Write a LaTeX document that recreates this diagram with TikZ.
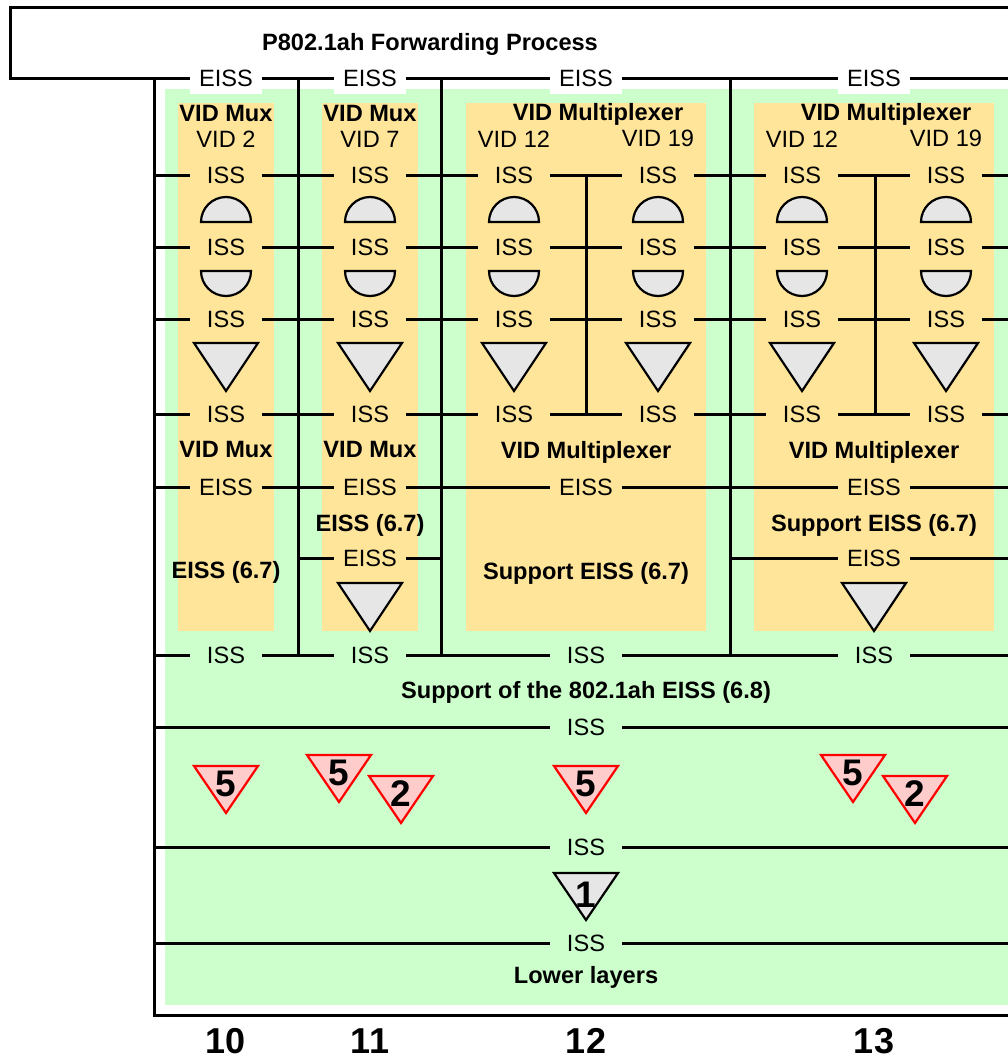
\documentclass[tikz,border=0pt]{standalone}
\usepackage{fontspec}
\setmainfont{Liberation Sans}

\definecolor{layergreen}{HTML}{CCFFCC}
\definecolor{muxyellow}{HTML}{FFE599}
\definecolor{symbgrey}{HTML}{E6E6E6}
\definecolor{flagpink}{HTML}{FFCCCC}

\tikzset{
	bus/.style={line width=3pt},
	port/.style={inner sep=0pt, minimum width=72pt, minimum height=24pt,
		font=\fontsize{23.6}{28}\selectfont, text height=16.9pt, text depth=0pt},
	topport/.style={port, fill=white, minimum height=32pt},
	lbl/.style={inner sep=0pt, font=\fontsize{23.6}{28}\selectfont\bfseries,
		text height=16.9pt, text depth=0pt},
	vid/.style={lbl, font=\fontsize{23.6}{28}\selectfont},
	symb/.style={draw, line width=2.2pt, fill=symbgrey},
	flag/.style={draw=red, line width=2.2pt, fill=flagpink},
	flagnum/.style={inner sep=0pt, font=\fontsize{37}{40}\selectfont\bfseries,
		text height=26.5pt, text depth=0pt},
	colnum/.style={inner sep=0pt, font=\fontsize{36}{40}\selectfont\bfseries,
		text height=25.8pt, text depth=0pt}
}

\begin{document}
\begin{tikzpicture}[x=1pt,y=-1pt]
	\useasboundingbox (0,0) rectangle (1007,1060);

	% Hintergruende
	\fill[layergreen] (165,89) rectangle (1010,1005);
	\foreach \xa/\xb in {178/274,322/418,466/706,754/994}
		\fill[muxyellow] (\xa,103) rectangle (\xb,631);

	% Forwarding Process
	\node[lbl] (fwd) at (430,42) {P802.1ah Forwarding Process};
	\foreach \n/\x in {1/226,2/370,3/586,4/874}
		\node[topport] (eA\n) at (\x,78) {EISS};
	\coordinate (lA) at (10,78);
	\coordinate (rA) at (1010,78);
	\draw[bus] (1010,7) -| (lA) -- (eA1) -- (eA2) -- (eA3) -- (eA4) -- (rA);

	% ISS-Ebenen in den VID-Spalten
	\foreach \r/\y in {B/175,C/247,D/319,E/414} {
		\foreach \n/\x in {1/226,2/370,3/514,4/658,5/802,6/946}
			\node[port] (i\r\n) at (\x,\y) {ISS};
		\coordinate (l\r) at (154,\y);
		\coordinate (r\r) at (1010,\y);
		\draw[bus] (l\r) -- (i\r1) -- (i\r2) -- (i\r3) -- (i\r4) -- (i\r5) -- (i\r6) -- (r\r);
	}

	% EISS-Ebenen
	\foreach \n/\x in {1/226,2/370,3/586,4/874}
		\node[port] (eF\n) at (\x,487) {EISS};
	\coordinate (lF) at (154,487);
	\coordinate (rF) at (1010,487);
	\draw[bus] (lF) -- (eF1) -- (eF2) -- (eF3) -- (eF4) -- (rF);

	\node[port] (eG2) at (370,558) {EISS};
	\node[port] (eG4) at (874,558) {EISS};
	\coordinate (lG2) at (298,558);
	\coordinate (rG2) at (441,558);
	\coordinate (lG4) at (730,558);
	\coordinate (rG4) at (1010,558);
	\draw[bus] (lG2) -- (eG2) -- (rG2);
	\draw[bus] (lG4) -- (eG4) -- (rG4);

	% ISS unterhalb
	\foreach \n/\x in {1/226,2/370,3/586,4/874}
		\node[port] (iH\n) at (\x,655) {ISS};
	\coordinate (lH) at (154,655);
	\coordinate (rH) at (1010,655);
	\draw[bus] (lH) -- (iH1) -- (iH2) -- (iH3) -- (iH4) -- (rH);

	\foreach \r/\y in {I/727,J/847,K/943} {
		\node[port] (i\r) at (586,\y) {ISS};
		\coordinate (l\r) at (154,\y);
		\coordinate (r\r) at (1010,\y);
		\draw[bus] (l\r) -- (i\r) -- (r\r);
	}

	% senkrechte Verbindungen
	\coordinate (bot) at (1010,1015);
	\draw[bus] (154,78) |- (bot);
	\foreach \x in {298,441,730}
		\draw[bus] (\x,78) -- (\x,655);
	\foreach \x in {586,875}
		\draw[bus] (\x,175) -- (\x,414);

	% Symbole
	\foreach \x in {226,370,514,658,802,946} {
		\filldraw[symb] (\x-25,222) arc[start angle=180, end angle=360, radius=25] -- cycle;
		\filldraw[symb] (\x-25,271) arc[start angle=180, end angle=0, radius=25] -- cycle;
		\filldraw[symb] (\x-32,343) -- (\x+32,343) -- (\x,391) -- cycle;
	}
	\foreach \x in {370,874}
		\filldraw[symb] (\x-32,583) -- (\x+32,583) -- (\x,631) -- cycle;

	% Dreiecke mit Nummern
	\foreach \n/\x/\y/\t in {1/226/766/5,2/339/755/5,3/401/776/2,4/586/766/5,5/853/755/5,6/915/776/2} {
		\filldraw[flag] (\x-32,\y) -- (\x+32,\y) -- (\x,\y+47) -- cycle;
		\node[flagnum] (f\n) at (\x,\y+17) {\t};
	}
	\filldraw[symb] (554,873) -- (618,873) -- (586,920) -- cycle;
	\node[flagnum] (f7) at (586,894) {1};

	% Beschriftungen
	\node[lbl] (mux10) at (226,113) {VID Mux};
	\node[lbl] (mux11) at (370,113) {VID Mux};
	\node[lbl] (mux12) at (598,112) {VID Multiplexer};
	\node[lbl] (mux13) at (886,112) {VID Multiplexer};
	\node[vid] (vid2) at (226,139) {VID 2};
	\node[vid] (vid7) at (370,139) {VID 7};
	\node[vid] (vid12a) at (514,139) {VID 12};
	\node[vid] (vid19a) at (658,138) {VID 19};
	\node[vid] (vid12b) at (802,139) {VID 12};
	\node[vid] (vid19b) at (946,138) {VID 19};
	\node[lbl] (lmux10) at (226,449) {VID Mux};
	\node[lbl] (lmux11) at (370,449) {VID Mux};
	\node[lbl] (lmux12) at (586,450) {VID Multiplexer};
	\node[lbl] (lmux13) at (874,450) {VID Multiplexer};
	\node[lbl] (sup10) at (226,570) {EISS (6.7)};
	\node[lbl] (sup11) at (370,523) {EISS (6.7)};
	\node[lbl] (sup12) at (586,571) {Support EISS (6.7)};
	\node[lbl] (sup13) at (874,523) {Support EISS (6.7)};
	\node[lbl] (sup8021ah) at (586,690) {Support of the 802.1ah EISS (6.8)};
	\node[lbl] (lower) at (586,975) {Lower layers};
	\foreach \n/\x in {10/226,11/370,12/586,13/874}
		\node[colnum] (c\n) at (\x,1041) {\n};
\end{tikzpicture}
\end{document}
